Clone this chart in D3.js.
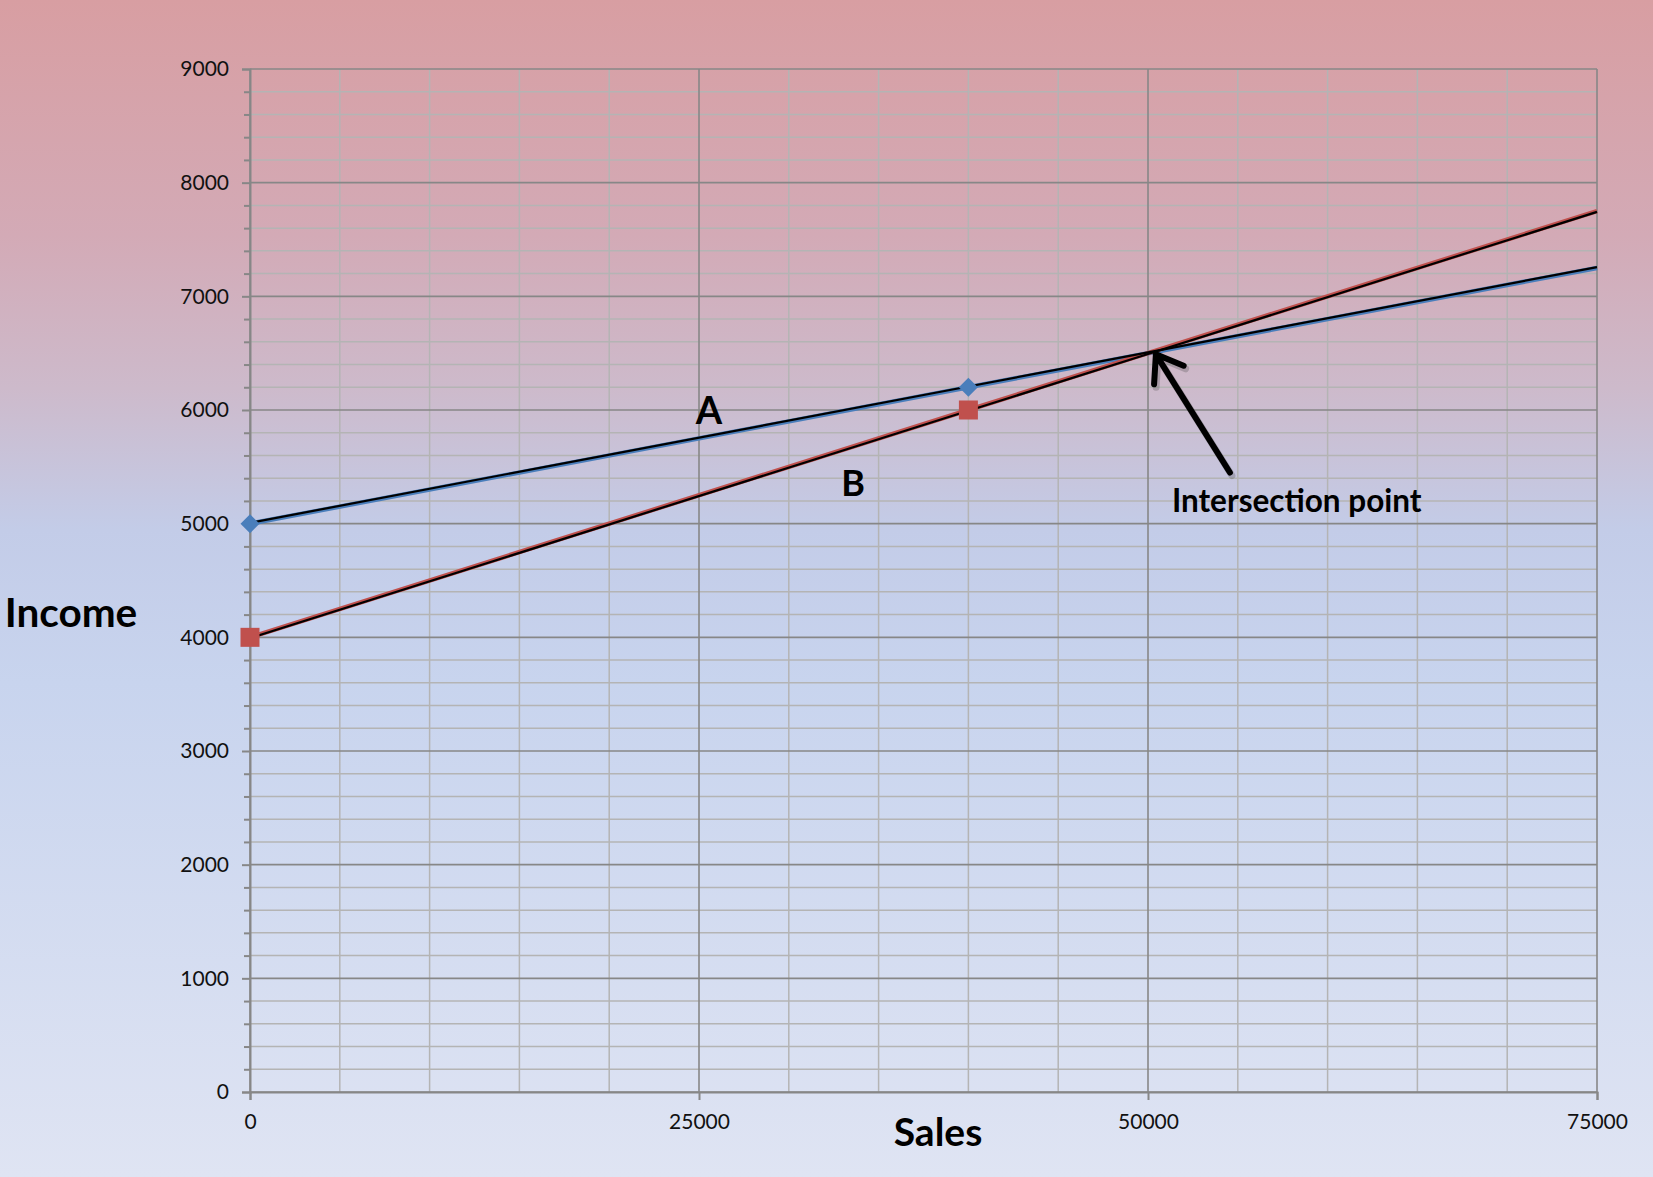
<!DOCTYPE html>
<html>
<head>
<meta charset="utf-8">
<script src="https://cdn.jsdelivr.net/npm/d3@7"></script>
<style>
  html, body { margin: 0; padding: 0; overflow: hidden; }
  body { width: 1653px; height: 1177px; }
  text { font-family: Lato, "Open Sans", "Liberation Sans", sans-serif; }
</style>
</head>
<body>
<svg id="chart" width="1653" height="1177"></svg>
<script>
// ---- data ----
const sales   = [0, 40000, 50000, 75000];
const incomeA = [5000, 6200, 6500, 7250];
const incomeB = [4000, 6000, 6500, 7750];
const markerCount = 2;               // markers drawn on first two points
const xTickValues = [0, 25000, 50000, 75000];
const yTickValues = [0, 1000, 2000, 3000, 4000, 5000, 6000, 7000, 8000, 9000];
const seriesLabels = ["A", "B"];
const labelPosA = [25560, 6010];
const labelPosB = [33580, 5370];
const calloutText = "Intersection point";
const calloutPos = [51330, 5100];
const arrowTip = [50440, 6490];
const arrowTail = [54560, 5450];

// ---- setup ----
const W = 1653, H = 1177;
const svg = d3.select("#chart");
const defs = svg.append("defs");
const grad = defs.append("linearGradient").attr("id", "bg")
  .attr("x1", 0).attr("y1", 0).attr("x2", 0).attr("y2", 1);
[["0%", "#d89ea2"], ["20%", "#d3aab6"], ["33%", "#cdbacb"], ["45%", "#c3cce8"],
 ["58%", "#c8d4ee"], ["100%", "#dfe4f3"]].forEach(([o, c]) =>
  grad.append("stop").attr("offset", o).attr("stop-color", c));
svg.append("rect").attr("width", W).attr("height", H).attr("fill", "url(#bg)");

const x = d3.scaleLinear().domain([0, 75000]).range([250, 1597]);
const y = d3.scaleLinear().domain([0, 9000]).range([1092, 69]);

const majorCol = "#878787", minorCol = "#b4b4b4";

// horizontal grid
const yMinor = d3.range(0, 9001, 200).filter(v => v % 1000 !== 0);
svg.append("g").selectAll("line").data(yMinor).join("line")
  .attr("x1", x(0)).attr("x2", x(75000))
  .attr("y1", d => y(d)).attr("y2", d => y(d))
  .attr("stroke", minorCol).attr("stroke-width", 1.5);
// vertical minor grid
const xMinor = d3.range(5000, 75000, 5000).filter(v => v % 25000 !== 0);
svg.append("g").selectAll("line").data(xMinor).join("line")
  .attr("x1", d => x(d)).attr("x2", d => x(d))
  .attr("y1", y(0)).attr("y2", y(9000))
  .attr("stroke", minorCol).attr("stroke-width", 1.5);
// major grid
svg.append("g").selectAll("line").data(yTickValues).join("line")
  .attr("x1", x(0)).attr("x2", x(75000))
  .attr("y1", d => y(d)).attr("y2", d => y(d))
  .attr("stroke", majorCol).attr("stroke-width", 1.6);
svg.append("g").selectAll("line").data(xTickValues).join("line")
  .attr("x1", d => x(d)).attr("x2", d => x(d))
  .attr("y1", y(0)).attr("y2", y(9000))
  .attr("stroke", majorCol).attr("stroke-width", 1.6);

// y axis with ticks
const yAxis = d3.axisLeft(y).tickValues(yTickValues).tickSize(8).tickPadding(13)
  .tickFormat(d3.format("d"));
const gy = svg.append("g").attr("transform", `translate(${x(0)},0)`).call(yAxis);
gy.select(".domain").attr("stroke", majorCol).attr("stroke-width", 2);
gy.selectAll(".tick line").attr("stroke", majorCol).attr("stroke-width", 2);
gy.selectAll(".tick text").attr("font-size", 21).attr("fill", "#111")
  .style("font-family", "Lato, 'Open Sans', sans-serif");
// y minor ticks
const yMinorAxis = d3.axisLeft(y).tickValues(yMinor).tickSize(6).tickFormat("");
const gym = svg.append("g").attr("transform", `translate(${x(0)},0)`).call(yMinorAxis);
gym.select(".domain").remove();
gym.selectAll(".tick line").attr("stroke", majorCol).attr("stroke-width", 2);

// x axis
const xAxis = d3.axisBottom(x).tickValues(xTickValues).tickSize(8).tickPadding(14)
  .tickFormat(d3.format("d"));
const gx = svg.append("g").attr("transform", `translate(0,${y(0)})`).call(xAxis);
gx.select(".domain").attr("stroke", majorCol).attr("stroke-width", 2);
gx.selectAll(".tick line").attr("stroke", majorCol).attr("stroke-width", 2);
gx.selectAll(".tick text").attr("font-size", 21).attr("fill", "#111")
  .style("font-family", "Lato, 'Open Sans', sans-serif");

// lines
const ptsA = sales.map((s, i) => [s, incomeA[i]]);
const ptsB = sales.map((s, i) => [s, incomeB[i]]);
const line = d3.line().x(d => x(d[0])).y(d => y(d[1]));

svg.append("path").attr("d", line(ptsA)).attr("fill", "none")
  .attr("stroke", "#4a7ebb").attr("stroke-width", 4.5);
svg.append("path").attr("d", line(ptsB)).attr("fill", "none")
  .attr("stroke", "#c0504d").attr("stroke-width", 4.5);
svg.append("path").attr("d", line(ptsA)).attr("fill", "none")
  .attr("stroke", "#000").attr("stroke-width", 2.2).attr("transform", "translate(0,-0.8)");
svg.append("path").attr("d", line(ptsB)).attr("fill", "none")
  .attr("stroke", "#000").attr("stroke-width", 2.2).attr("transform", "translate(0,0.8)");

// markers
svg.append("g").selectAll("path").data(ptsA.slice(0, markerCount)).join("path")
  .attr("d", d3.symbol().type(d3.symbolDiamond2).size(230))
  .attr("transform", d => `translate(${x(d[0])},${y(d[1])})`)
  .attr("fill", "#4a7ebb");
svg.append("g").selectAll("rect").data(ptsB.slice(0, markerCount)).join("rect")
  .attr("x", d => x(d[0]) - 9.5).attr("y", d => y(d[1]) - 9.5)
  .attr("width", 19).attr("height", 19)
  .attr("fill", "#c0504d");

// series labels
svg.append("text").attr("x", x(labelPosA[0])).attr("y", y(labelPosA[1]))
  .attr("text-anchor", "middle").attr("dominant-baseline", "central")
  .attr("font-size", 38).attr("font-weight", "bold").text(seriesLabels[0]);
svg.append("text").attr("x", x(labelPosB[0])).attr("y", y(labelPosB[1]))
  .attr("text-anchor", "middle").attr("dominant-baseline", "central")
  .attr("font-size", 36).attr("font-weight", "bold").text(seriesLabels[1]);

// callout
svg.append("text").attr("x", x(calloutPos[0])).attr("y", y(calloutPos[1]))
  .attr("font-size", 31.5).attr("font-weight", "bold").text(calloutText);

// arrow
const tip = [x(arrowTip[0]), y(arrowTip[1])];
const tail = [x(arrowTail[0]), y(arrowTail[1])];
const ang = Math.atan2(tail[1] - tip[1], tail[0] - tip[0]);
const bl = 30, spread = 0.62;
const b1 = [tip[0] + bl * Math.cos(ang + spread), tip[1] + bl * Math.sin(ang + spread)];
const b2 = [tip[0] + bl * Math.cos(ang - spread), tip[1] + bl * Math.sin(ang - spread)];
const ag = svg.append("g").attr("fill", "none").attr("stroke-linecap", "round").attr("stroke-linejoin", "round");
ag.append("path").attr("d", `M${tail[0]+2},${tail[1]+3}L${tip[0]+2},${tip[1]+3}M${b1[0]+2},${b1[1]+3}L${tip[0]+2},${tip[1]+3}L${b2[0]+2},${b2[1]+3}`)
  .attr("stroke", "rgba(60,60,60,0.25)").attr("stroke-width", 7);
ag.append("path").attr("d", `M${tail[0]},${tail[1]}L${tip[0]},${tip[1]}M${b1[0]},${b1[1]}L${tip[0]},${tip[1]}L${b2[0]},${b2[1]}`)
  .attr("stroke", "#000").attr("stroke-width", 6);

// axis titles
svg.append("text").attr("x", 71).attr("y", 611)
  .attr("text-anchor", "middle").attr("dominant-baseline", "central")
  .attr("font-size", 40.5).attr("font-weight", "bold").text("Income");
svg.append("text").attr("x", 938).attr("y", 1131)
  .attr("text-anchor", "middle").attr("dominant-baseline", "central")
  .attr("font-size", 39).attr("font-weight", "bold").text("Sales");
</script>
</body>
</html>
